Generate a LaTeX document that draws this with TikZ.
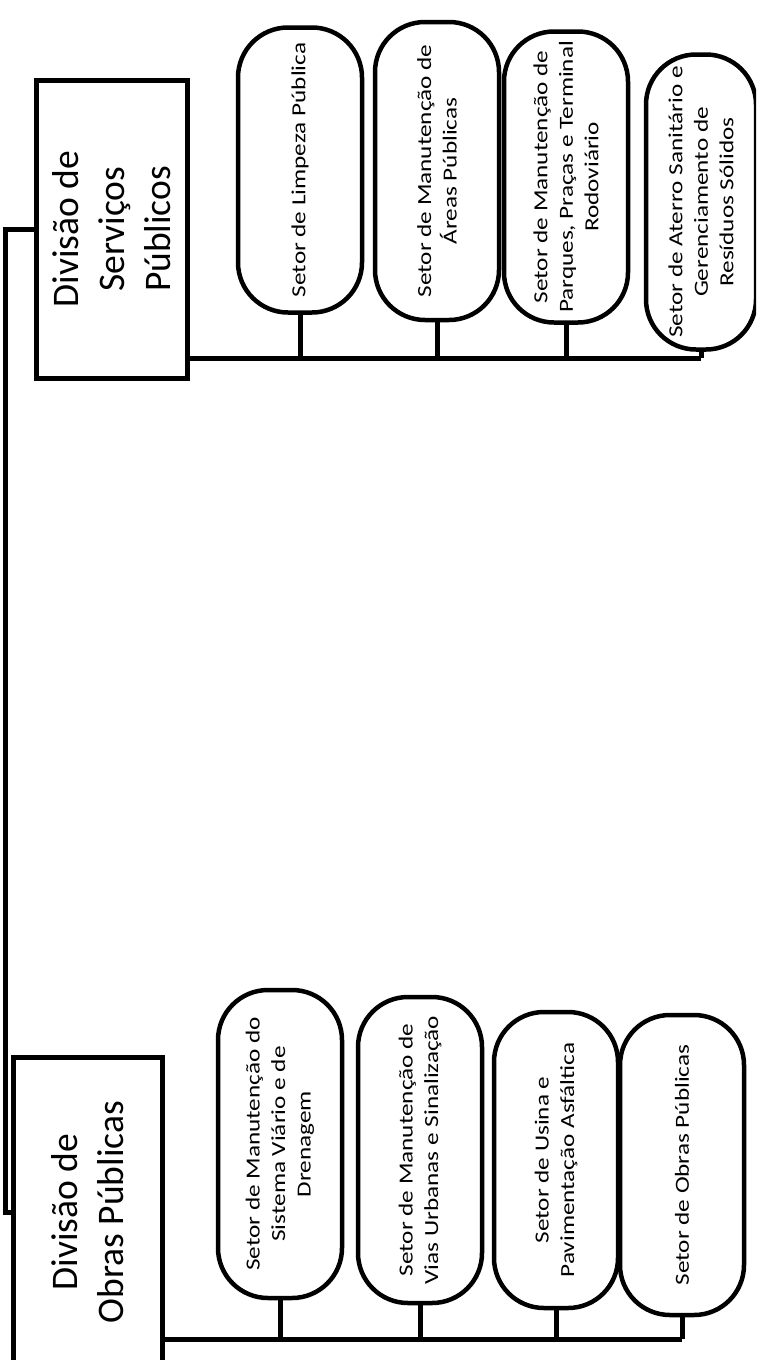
\documentclass[tikz,border=0pt]{standalone}
\usepackage{fontspec}
\setmainfont{Carlito}
\newfontfamily\setorfont[FakeStretch=1.26]{Carlito}
\usepackage{tikz}

\begin{document}
\begin{tikzpicture}[x=1pt,y=-1pt]
    \tikzset{setor/.style={draw, line width=4.5pt, rounded corners=50pt, rotate=90, align=center, inner sep=2pt, minimum height=124pt, font=\setorfont\fontsize{20}{25.5}\selectfont}};
    \tikzset{divisao/.style={draw, line width=5pt, rotate=90, align=center, inner sep=2pt, font=\fontsize{37.5}{46}\selectfont}};
    \tikzset{linha/.style={line width=5pt}};
\useasboundingbox (0,0) rectangle (756,1360);
\clip (0,0) rectangle (756,1360);
%% divisoes
\node (ds) at (112,229) [divisao, minimum width=298pt, minimum height=151pt] {Divisão de\\Serviços\\Públicos};
  \node (do) at (88,1212) [divisao, minimum width=310pt, minimum height=149pt] {Divisão de\\Obras Públicas};
%% setores de servicos
  \node (s1) at (300,170) [setor, minimum width=285pt] {Setor de Limpeza Pública};
  \node (s2) at (437,171) [setor, minimum width=298pt] {Setor de Manutenção de\\Áreas Públicas};
  \node (s3) at (566,177) [setor, minimum width=291pt] {Setor de Manutenção de\\Parques, Praças e Terminal\\Rodoviário};
  \node (s4) at (701,202) [setor, minimum width=295pt, minimum height=110pt] {Setor de Aterro Sanitário e\\Gerenciamento de\\Resíduos Sólidos};
%% setores de obras
  \node (o1) at (280,1144) [setor, minimum width=308pt] {Setor de Manutenção do\\Sistema Viário e de\\Drenagem};
  \node (o2) at (420,1150) [setor, minimum width=306pt] {Setor de Manutenção de\\Vias Urbanas e Sinalização};
  \node (o3) at (556,1160) [setor, minimum width=296pt] {Setor de Usina e\\Pavimentação Asfáltica};
  \node (o4) at (682,1165) [setor, minimum width=300pt] {Setor de Obras Públicas};
  \coordinate (bs) at (0,358);
  \coordinate (bo) at (0,1339);

  \draw [linha] (ds.north) -- ++(-29,0) |- (do.north);

  \draw [linha] (ds.south |- bs) -- (s4.west |- bs);
  \draw [linha] (s1.west) -- (s1.west |- bs);
  \draw [linha] (s2.west) -- (s2.west |- bs);
  \draw [linha] (s3.west) -- (s3.west |- bs);
  \draw [linha] (s4.west) -- (s4.west |- bs);

  \draw [linha] (do.south |- bo) -- (o4.west |- bo);
  \draw [linha] (o1.west) -- (o1.west |- bo);
  \draw [linha] (o2.west) -- (o2.west |- bo);
  \draw [linha] (o3.west) -- (o3.west |- bo);
  \draw [linha] (o4.west) -- (o4.west |- bo);
\end{tikzpicture}
\end{document}
